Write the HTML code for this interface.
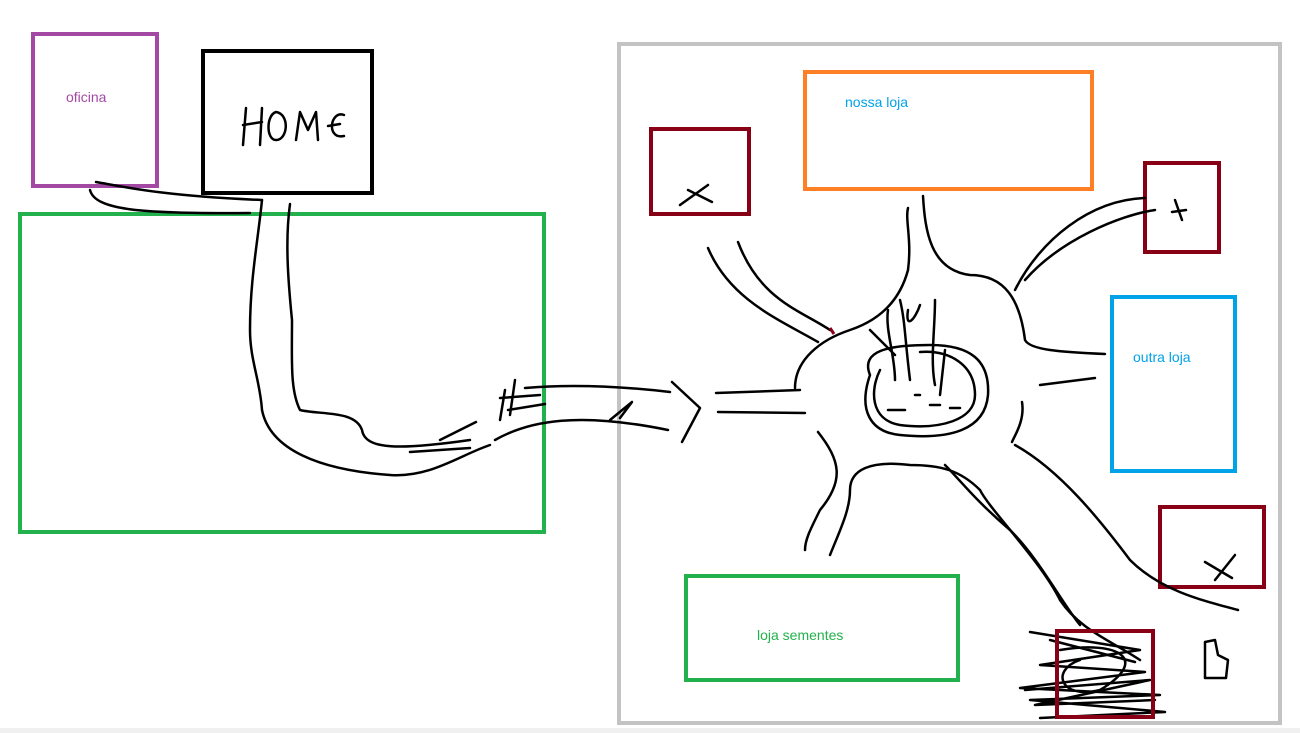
<!DOCTYPE html>
<html><head><meta charset="utf-8"><style>
html,body{margin:0;padding:0;background:#fff;width:1300px;height:733px;overflow:hidden}
svg{display:block}
text{font-family:"Liberation Sans",sans-serif;font-size:14px}
</style></head><body>
<svg width="1300" height="733" viewBox="0 0 1300 733" xmlns="http://www.w3.org/2000/svg">
<rect x="0" y="728" width="1300" height="5" fill="#f0f0f0"/>
<g fill="none" stroke-width="4">
<rect x="33" y="34" width="124" height="152" stroke="#a349a4"/>
<rect x="203" y="51" width="169" height="142" stroke="#000"/>
<rect x="20" y="214" width="524" height="318" stroke="#22b14c"/>
<rect x="619" y="44" width="661" height="679" stroke="#c3c3c3"/>
<rect x="805" y="72" width="287" height="117" stroke="#ff7f27"/>
<rect x="651" y="129" width="98" height="85" stroke="#880015"/>
<rect x="1145" y="163" width="74" height="89" stroke="#880015"/>
<rect x="1112" y="297" width="123" height="174" stroke="#00a2e8"/>
<rect x="1160" y="507" width="104" height="80" stroke="#880015"/>
<rect x="686" y="576" width="272" height="104" stroke="#22b14c"/>
</g>
<text x="66" y="102" fill="#a349a4">oficina</text>
<text x="845" y="107" fill="#00a2e8">nossa loja</text>
<text x="1133" y="362" fill="#00a2e8">outra loja</text>
<text x="757" y="640" fill="#22b14c">loja sementes</text>
<g fill="none" stroke="#000" stroke-width="2.5" stroke-linecap="round" stroke-linejoin="round">
<path d="M246 108 L243 145 M243 125 L262 122 M262 108 L260 145"/>
<path d="M276 112 C266 115 266 140 276 140 C288 140 290 114 276 112"/>
<path d="M296 140 L300 112 L308 130 L316 112 L318 140"/>
<path d="M344 115 C330 110 326 140 344 136 M328 126 L340 124"/>
<path d="M96 182 C120 186 160 196 262 200"/>
<path d="M90 190 C95 210 140 214 250 213"/>
<path d="M262 200 C258 240 250 280 250 330 C250 360 260 380 262 410 C270 450 320 470 390 475 C430 478 460 455 490 445"/>
<path d="M290 204 C285 240 288 280 292 320 C292 360 290 390 300 410 C320 415 355 410 362 430 C365 450 400 450 470 440"/>
<path d="M410 452 L470 448 M440 440 L476 422"/>
<path d="M505 390 L500 420 M515 380 L510 415 M500 398 L540 395 M508 410 L545 404"/>
<path d="M525 388 C560 385 610 385 670 392"/>
<path d="M495 440 C530 420 580 412 668 430"/>
<path d="M610 420 L632 402 L620 418"/>
<path d="M672 382 L700 408 L682 442"/>
<path d="M716 393 L800 390 M718 412 L805 413"/>
<path d="M795 388 C795 360 820 340 850 330 C880 320 900 300 908 270 C912 240 905 220 908 208"/>
<path d="M923 196 C925 230 930 270 970 275 C1005 275 1020 300 1025 340 C1030 350 1060 352 1105 354"/>
<path d="M1040 385 L1095 378"/>
<path d="M1022 402 C1025 420 1015 435 1012 442"/>
<path d="M1025 280 C1060 240 1120 215 1155 210 M1015 290 C1040 240 1090 200 1145 198"/>
<path d="M830 330 C800 310 760 300 738 242 M818 342 C780 320 730 300 708 248"/>
<path d="M818 432 C840 460 845 480 820 510 C810 530 805 540 805 550"/>
<path d="M830 555 C840 530 850 510 850 490 C850 470 870 460 910 465 C940 465 960 470 980 490 C990 510 1040 560 1060 600 C1080 630 1110 640 1140 660"/>
<path d="M1015 445 C1060 470 1100 520 1130 560 C1160 590 1200 600 1238 610"/>
<path d="M945 465 C960 480 975 500 1010 530 C1040 560 1060 600 1080 625"/>
<path d="M870 375 C860 350 890 345 930 345 C970 345 990 360 988 395 C985 430 950 440 900 435 C870 432 858 410 870 375"/>
<path d="M880 370 C870 390 870 420 900 425 C940 430 975 420 975 395 C975 365 950 350 920 352"/>
<path d="M870 330 L895 355 M888 310 C885 330 895 355 895 380 M900 300 C905 320 905 340 910 380 M920 305 C915 320 905 330 908 310 M935 300 C935 330 930 360 935 385 M945 350 L940 395"/>
<path d="M888 410 L905 410 M915 395 L920 395 M930 405 L940 405 M950 408 L960 408"/>
<path d="M680 205 L708 185 M688 190 L712 202"/>
<path d="M1175 200 L1182 220 M1172 212 L1186 210"/>
<path d="M1205 562 L1232 578 M1215 580 L1235 555"/>
<path d="M1030 632 L1140 650 L1040 665 L1145 672 L1020 688 L1160 695 L1030 700 L1165 712 L1040 718 M1060 650 C1120 640 1150 660 1100 690 C1060 700 1050 670 1080 660 M1025 690 L1150 680 L1035 705 L1155 700 M1050 640 L1135 662"/>
<path d="M1205 642 L1215 640 L1218 655 L1228 660 L1226 678 L1205 678 Z"/>
</g>
<rect x="1057" y="631" width="96" height="86" fill="none" stroke="#880015" stroke-width="4"/>
<path d="M830 328 L834 334" stroke="#880015" stroke-width="3"/>
</svg>
</body></html>
